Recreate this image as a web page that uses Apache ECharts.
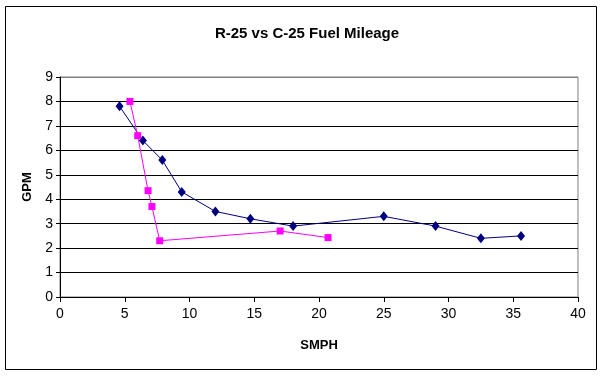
<!doctype html>
<html>
<head>
    <meta charset="utf-8">
    <title>R-25 vs C-25 Fuel Mileage</title>
    <script src="https://cdn.jsdelivr.net/npm/echarts@6/dist/echarts.min.js"></script>
    <style>
        body{
            margin:0;
            padding:0;
            background:#fff;
        }
        #chart{
            width:602px;
            height:377px;
        }
    </style>
</head>
<body>
<div id="chart"></div>
<script>
    // navy diamonds
    var r25Speed = [4.6, 6.4, 7.9, 9.4, 12.0, 14.7, 18.0, 25.0, 29.0, 32.5, 35.6];
    var r25Gpm   = [7.8, 6.4, 5.6, 4.3, 3.5, 3.2, 2.9, 3.3, 2.9, 2.4, 2.5];
    // magenta squares
    var c25Speed = [5.4, 6.0, 6.8, 7.1, 7.7, 17.0, 20.7];
    var c25Gpm   = [8.0, 6.6, 4.35, 3.7, 2.3, 2.7, 2.43];

    var yTicks = [0, 1, 2, 3, 4, 5, 6, 7, 8, 9];

    function pairs(xs, ys){
        var out = [];
        for (var i = 0; i < xs.length; i++) {
            out.push([xs[i], ys[i]]);
        }
        return out;
    }

    // top gridline is the grey plot border in the original
    var gridColors = yTicks.map(function(v){ return v === 9 ? '#808080' : '#000'; });

    var myChart = echarts.init(document.getElementById('chart'));
    var option = {
        backgroundColor: '#fff',
        animation: false,
        title: {
            text: 'R-25 vs C-25 Fuel Mileage',
            left: 302,
            top: 21,
            textAlign: 'center',
            textStyle: {
                fontFamily: 'Arial, Liberation Sans',
                fontSize: 15,
                fontWeight: 'bold',
                color: '#000'
            }
        },
        graphic: [
            {
                type: 'rect',
                shape: {x: 5.5, y: 6.5, width: 591, height: 363},
                style: {fill: null, stroke: '#000', lineWidth: 1},
                z: -1
            }
        ],
        grid: {
            left: 60,
            right: 24,
            top: 77,
            bottom: 80,
            show: true,
            borderColor: '#808080',
            borderWidth: 1
        },
        xAxis: {
            type: 'value',
            min: 0,
            max: 40,
            interval: 5,
            name: 'SMPH',
            nameLocation: 'middle',
            nameGap: 42,
            nameTextStyle: {
                fontFamily: 'Arial, Liberation Sans',
                fontSize: 13,
                fontWeight: 'bold',
                color: '#000'
            },
            axisLine: {lineStyle: {color: '#000', width: 1}},
            axisTick: {show: true, length: 5, lineStyle: {color: '#000'}},
            axisLabel: {
                fontFamily: 'Arial, Liberation Sans',
                fontSize: 14,
                color: '#000',
                margin: 10
            },
            splitLine: {show: false}
        },
        yAxis: {
            type: 'value',
            min: 0,
            max: 9,
            interval: 1,
            name: 'GPM',
            nameLocation: 'middle',
            nameGap: 25,
            nameRotate: 90,
            nameTextStyle: {
                fontFamily: 'Arial, Liberation Sans',
                fontSize: 13,
                fontWeight: 'bold',
                color: '#000'
            },
            axisLine: {show: true, lineStyle: {color: '#000', width: 1}},
            axisTick: {show: true, length: 4, lineStyle: {color: '#000'}},
            axisLabel: {
                fontFamily: 'Arial, Liberation Sans',
                fontSize: 14,
                color: '#000',
                margin: 7
            },
            splitLine: {show: true, lineStyle: {color: gridColors, width: 1}}
        },
        series: [
            {
                name: 'R-25',
                type: 'line',
                data: pairs(r25Speed, r25Gpm),
                symbol: 'diamond',
                symbolSize: [8, 10],
                lineStyle: {color: '#000080', width: 1},
                itemStyle: {color: '#000080'}
            },
            {
                name: 'C-25',
                type: 'line',
                data: pairs(c25Speed, c25Gpm),
                symbol: 'rect',
                symbolSize: 7,
                lineStyle: {color: '#ff00ff', width: 1},
                itemStyle: {color: '#ff00ff'}
            }
        ]
    };
    myChart.setOption(option, true);
</script>
</body>
</html>
